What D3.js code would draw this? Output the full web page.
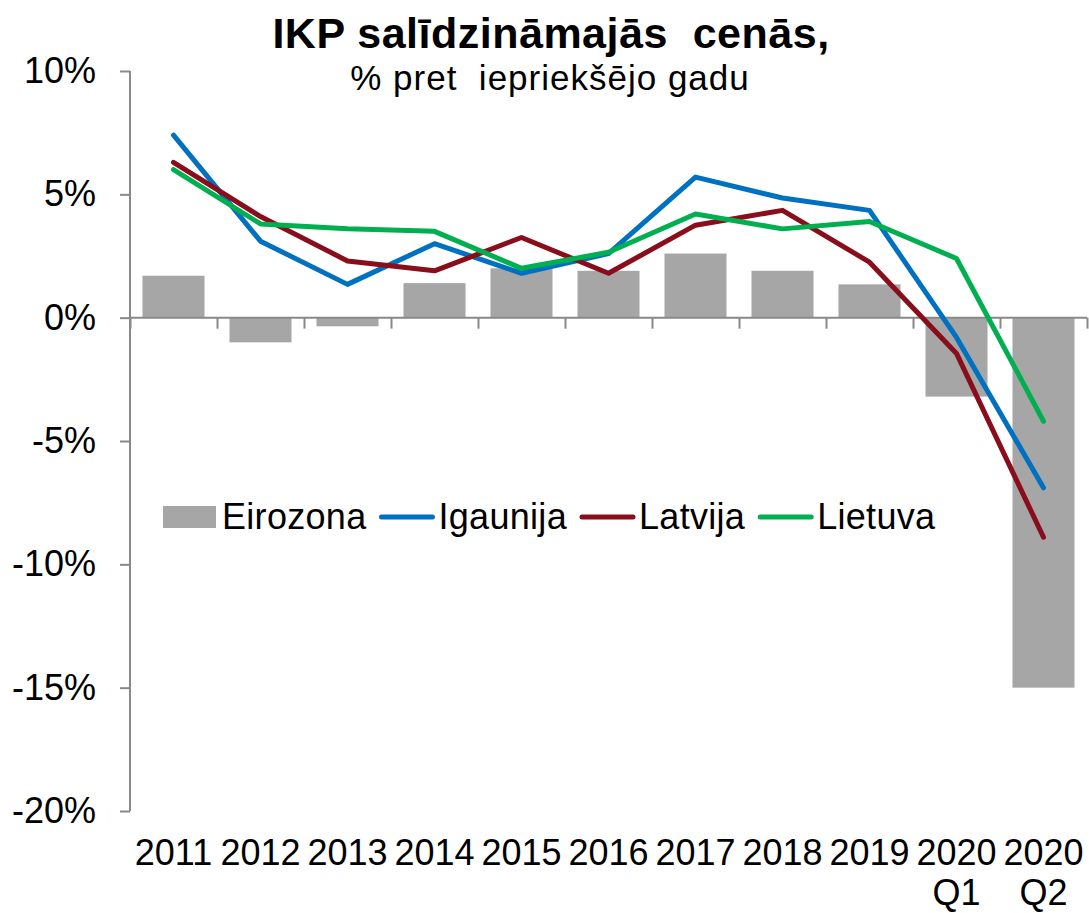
<!DOCTYPE html>
<html>
<head>
<meta charset="utf-8">
<script src="https://cdn.jsdelivr.net/npm/d3@7"></script>
<style>
  body { margin: 0; background: #fff; }
  svg text { font-family: "Liberation Sans", Arial, sans-serif; fill: #000; }
</style>
</head>
<body>
<div id="chart"></div>
<script>
// categories and series
const categories = ["2011", "2012", "2013", "2014", "2015", "2016", "2017", "2018", "2019", "2020 Q1", "2020 Q2"];
const eirozona = [1.7, -1.0, -0.35, 1.4, 2.0, 1.9, 2.6, 1.9, 1.35, -3.2, -15.0];
const igaunija = [7.4, 3.1, 1.35, 3.0, 1.8, 2.6, 5.7, 4.85, 4.35, -0.8, -6.9];
const latvija = [6.3, 4.1, 2.3, 1.9, 3.25, 1.8, 3.75, 4.35, 2.25, -1.45, -8.9];
const lietuva = [6.0, 3.8, 3.6, 3.5, 2.0, 2.65, 4.2, 3.6, 3.9, 2.4, -4.2];
const yTicks = [-20, -15, -10, -5, 0, 5, 10];

const lineSeries = [
    { name: "Igaunija", values: igaunija, color: "#0070c0" },
    { name: "Latvija", values: latvija, color: "#890d1b" },
    { name: "Lietuva", values: lietuva, color: "#00b050" }
];

const width = 1089;
const height = 913;
const axisColor = "#898989";

const svg = d3.select("#chart").append("svg")
    .attr("width", width)
    .attr("height", height);

const x = d3.scaleBand()
    .domain(categories)
    .range([130, 1087])
    .paddingInner(0.287)
    .paddingOuter(0.1435);

// boundaries between categories for the tick marks
const xEdge = d3.scaleLinear().domain([0, categories.length]).range([130, 1087]);

const y = d3.scaleLinear().domain([-20, 10]).range([811, 71]);

// title
svg.append("text")
    .attr("x", 551).attr("y", 48)
    .attr("text-anchor", "middle")
    .style("font-size", "43px").style("font-weight", "bold")
    .style("letter-spacing", "0.5px")
    .style("white-space", "pre")
    .text("IKP salīdzināmajās  cenās,");

svg.append("text")
    .attr("x", 550).attr("y", 90)
    .attr("text-anchor", "middle")
    .style("font-size", "35px")
    .style("letter-spacing", "1px")
    .style("white-space", "pre")
    .text("% pret  iepriekšējo gadu");

// bars
svg.selectAll(".bar")
    .data(eirozona)
    .enter().append("rect")
    .attr("class", "bar")
    .attr("x", (d, i) => x(categories[i]))
    .attr("width", x.bandwidth())
    .attr("y", d => y(Math.max(0, d)))
    .attr("height", d => Math.abs(y(d) - y(0)))
    .attr("fill", "#a6a6a6");

// y axis
const yAxis = svg.append("g")
    .attr("transform", "translate(130,0)")
    .call(d3.axisLeft(y).tickValues(yTicks).tickFormat(d => d + "%").tickSize(10).tickPadding(24));

// x axis at zero
const xAxis = svg.append("g")
    .attr("transform", `translate(0,${y(0)})`)
    .call(d3.axisBottom(xEdge).tickValues(d3.range(categories.length + 1)).tickFormat("").tickSize(11));

[yAxis, xAxis].forEach(g => {
    g.select(".domain").attr("stroke", axisColor).attr("stroke-width", 2);
    g.selectAll(".tick line").attr("stroke", axisColor).attr("stroke-width", 2);
});
xAxis.select(".domain").attr("d", "M130,0H1087");
yAxis.select(".domain").attr("d", `M0,${y(10)}V${y(-20)}`);
yAxis.selectAll(".tick text")
    .style("font-size", "36px")
    .attr("font-family", null)
    .attr("fill", "#000");

// category labels
const labels = svg.append("g");
categories.forEach(c => {
    const parts = c.split(" ");
    const t = labels.append("text")
        .attr("x", x(c) + x.bandwidth() / 2)
        .attr("y", 865)
        .attr("text-anchor", "middle")
        .style("font-size", "36px");
    parts.forEach((p, k) => {
        t.append("tspan")
            .attr("x", x(c) + x.bandwidth() / 2)
            .attr("dy", k === 0 ? 0 : 40.3)
            .text(p);
    });
});

// lines
const line = d3.line()
    .x((d, i) => x(categories[i]) + x.bandwidth() / 2)
    .y(d => y(d));

svg.selectAll(".series")
    .data(lineSeries)
    .enter().append("path")
    .attr("class", "series")
    .attr("d", d => line(d.values))
    .attr("fill", "none")
    .attr("stroke", d => d.color)
    .attr("stroke-width", 5)
    .attr("stroke-linejoin", "round")
    .attr("stroke-linecap", "round");

// legend
const legend = svg.append("g").attr("transform", "translate(163,517)");
let lx = 0;
const legendItems = [{ name: "Eirozona", type: "bar", color: "#a6a6a6" }]
    .concat(lineSeries.map(s => ({ name: s.name, type: "line", color: s.color })));
legendItems.forEach(item => {
    if (item.type === "bar") {
        legend.append("rect")
            .attr("x", lx).attr("y", -11)
            .attr("width", 53).attr("height", 22)
            .attr("fill", item.color);
    } else {
        legend.append("line")
            .attr("x1", lx + 2).attr("x2", lx + 53)
            .attr("y1", 0).attr("y2", 0)
            .attr("stroke", item.color)
            .attr("stroke-width", 5)
            .attr("stroke-linecap", "round");
    }
    const t = legend.append("text")
        .attr("x", lx + 59).attr("y", 12)
        .style("font-size", "36px")
        .style("letter-spacing", "0.3px")
        .text(item.name);
    lx += 59 + t.node().getComputedTextLength() + 13;
});
</script>
</body>
</html>
